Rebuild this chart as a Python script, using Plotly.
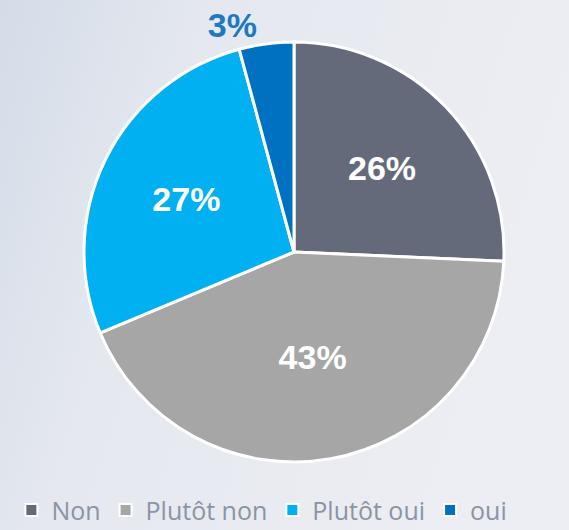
import base64

import plotly.graph_objects as go

categories = ["Non", "Plutôt non", "Plutôt oui", "oui"]
shares = [25.7, 43.0, 27.1, 4.2]
share_labels = ["26%", "43%", "27%", "3%"]

COLORS = ["#646a7a", "#a6a6a6", "#00b0f0", "#0070c0"]
LABEL_COLORS = ["white", "white", "white", "#1c79c2"]

# fond dégradé léger (bleuté à gauche, plus clair vers la droite)
GRADIENT_SVG = """<svg xmlns='http://www.w3.org/2000/svg' width='569' height='530'>
<defs><linearGradient id='g' x1='0' y1='0' x2='1' y2='0.3'>
<stop offset='0' stop-color='#d4dce8'/>
<stop offset='0.35' stop-color='#e5e8ef'/>
<stop offset='1' stop-color='#eceef3'/>
</linearGradient></defs>
<rect width='569' height='530' fill='url(#g)'/>
</svg>"""
bg_uri = "data:image/svg+xml;base64," + base64.b64encode(GRADIENT_SVG.encode()).decode()

fig = go.Figure(
    go.Pie(
        labels=categories,
        values=shares,
        text=share_labels,
        textinfo="text",
        sort=False,
        direction="clockwise",
        rotation=0,
        textposition=["inside", "inside", "inside", "outside"],
        insidetextorientation="horizontal",
        marker=dict(colors=COLORS, line=dict(color="white", width=3)),
        textfont=dict(family="Liberation Sans", size=34, color=LABEL_COLORS, weight="bold"),
        outsidetextfont=dict(family="Liberation Sans", size=34, color="#1c79c2", weight="bold"),
        domain=dict(x=[84 / 569, 504 / 569], y=[1 - 462 / 530, 1 - 42 / 530]),
        hoverinfo="label+percent",
    )
)

fig.add_layout_image(
    source=bg_uri, xref="paper", yref="paper", x=0, y=1,
    sizex=1, sizey=1, sizing="stretch", layer="below",
)

fig.update_layout(
    width=569, height=530,
    margin=dict(l=0, r=0, t=0, b=0, autoexpand=False),
    paper_bgcolor="#e5e9f0",
    plot_bgcolor="rgba(0,0,0,0)",
    showlegend=True,
    legend=dict(
        orientation="h", x=0.02, xanchor="left", y=-0.006, yanchor="bottom",
        font=dict(family="Open Sans", size=25, color="#8a94a5"),
        itemsizing="constant", traceorder="normal", itemwidth=30,
        bgcolor="rgba(0,0,0,0)",
    ),
)

fig.write_html(
    "out.html",
    config={"displayModeBar": False},
    post_script="document.body.style.margin='0';",
)
